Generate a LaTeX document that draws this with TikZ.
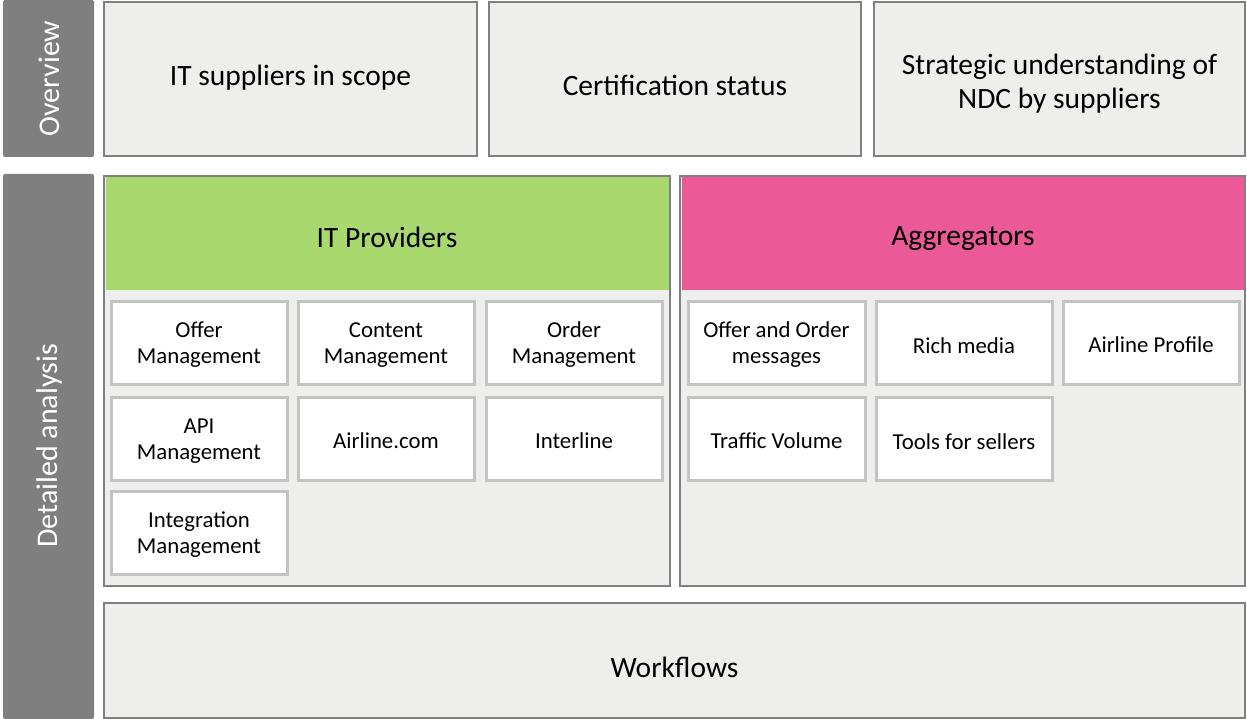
\documentclass[tikz,border=0pt]{standalone}
\usepackage{fontspec}
\setmainfont{Carlito}
\begin{document}
\begin{tikzpicture}[x=1pt,y=-1pt,
  side/.style={fill=sidegray,draw=none,rounded corners=2pt},
  bigbox/.style={fill=boxfill,draw=bordergray,line width=2.5pt},
  small/.style={fill=white,draw=lightborder,line width=3pt},
  bigtxt/.style={font=\fontsize{29.5}{34}\selectfont,align=center},
  smalltxt/.style={font=\fontsize{22.8}{26}\selectfont,align=center},
  sidetxt/.style={font=\fontsize{30}{34}\selectfont,text=white,rotate=90}
]
\definecolor{sidegray}{HTML}{7F7F7F}
\definecolor{boxfill}{HTML}{EEEEEC}
\definecolor{bordergray}{HTML}{808080}
\definecolor{lightborder}{HTML}{C3C3C3}
\definecolor{green}{HTML}{A9D86E}
\definecolor{pink}{HTML}{EB5A96}
\useasboundingbox (0,0) rectangle (1247,719);
% sidebars
\path[side] (3,0) rectangle (94,157);
\node[sidetxt] (ov) at (49.5,78.5) {Overview};
\path[side] (3,174) rectangle (94,719);
\node[sidetxt] (da) at (49.5,446) {Detailed analysis};
% overview boxes
\draw[bigbox] (104,2) rectangle (477,156);
\node[bigtxt] (o1) at (290.5,78) {IT suppliers in scope};
\draw[bigbox] (489,2) rectangle (861,156);
\node[bigtxt] (o2) at (675,85) {Certification status};
\draw[bigbox] (874,2) rectangle (1245,156);
\node[bigtxt] (o3) at (1059.5,84) {Strategic understanding of\\NDC by suppliers};
% panels
\draw[bigbox] (104,176) rectangle (670,586);
\fill[green] (105.5,177.5) rectangle (668.5,290);
\node[bigtxt] (itp) at (387,237) {IT Providers};
\draw[bigbox] (680,176) rectangle (1245,586);
\fill[pink] (681.5,177.5) rectangle (1243.5,290);
\node[bigtxt] (agg) at (963,239) {Aggregators};
% IT small boxes
\draw[small] (111,301) rectangle (287,384);
\node[smalltxt] (a1) at (199,345) {Offer\\Management};
\draw[small] (298,301) rectangle (474,384);
\node[smalltxt] (a2) at (386,345) {Content\\Management};
\draw[small] (486,301) rectangle (662,384);
\node[smalltxt] (a3) at (574,345) {Order\\Management};
\draw[small] (111,397) rectangle (287,480);
\node[smalltxt] (a4) at (199,441) {API\\Management};
\draw[small] (298,397) rectangle (474,480);
\node[smalltxt] (a5) at (386,441) {Airline.com};
\draw[small] (486,397) rectangle (662,480);
\node[smalltxt] (a6) at (574,441) {Interline};
\draw[small] (111,491) rectangle (287,574);
\node[smalltxt] (a7) at (199,535) {Integration\\Management};
% Aggregator small boxes
\draw[small] (688,301) rectangle (865,384);
\node[smalltxt] (b1) at (776.5,345) {Offer and Order\\messages};
\draw[small] (876,301) rectangle (1052,384);
\node[smalltxt] (b2) at (964,346) {Rich media};
\draw[small] (1063,301) rectangle (1239,384);
\node[smalltxt] (b3) at (1151,345) {Airline Profile};
\draw[small] (688,397) rectangle (865,480);
\node[smalltxt] (b4) at (776.5,441) {Traffic Volume};
\draw[small] (876,397) rectangle (1052,480);
\node[smalltxt] (b5) at (964,442) {Tools for sellers};
% workflows
\draw[bigbox] (104,603) rectangle (1245,718);
\node[bigtxt] (wf) at (674.5,667) {Workflows};
\end{tikzpicture}
\end{document}
